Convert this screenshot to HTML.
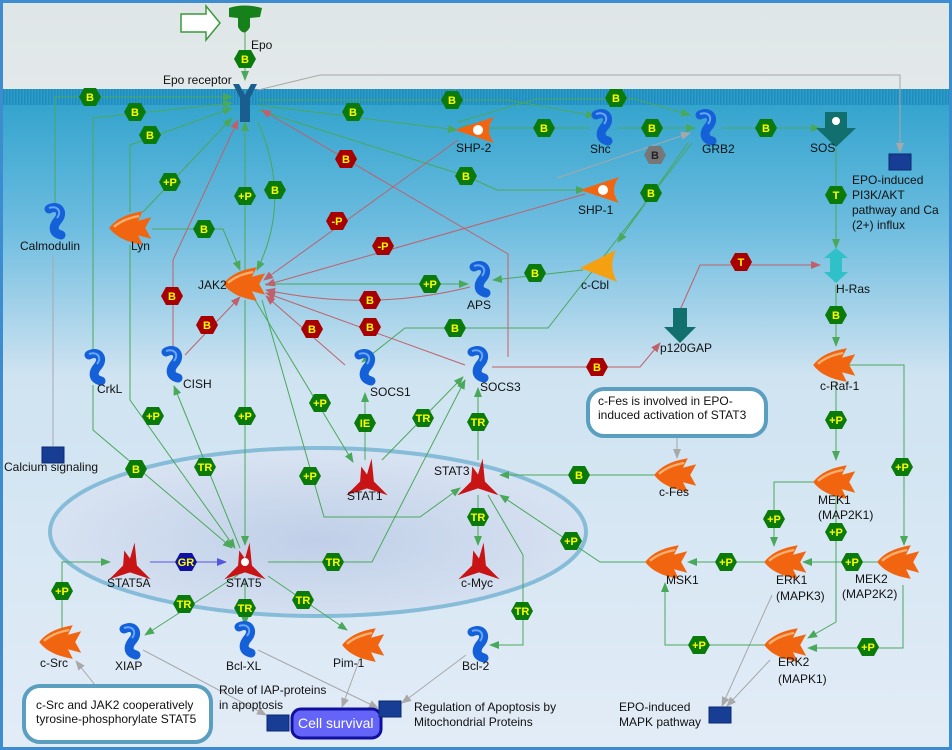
<!DOCTYPE html>
<html><head><meta charset="utf-8"><style>
html,body{margin:0;padding:0;width:952px;height:750px;overflow:hidden;background:#fff}
svg{display:block}
text{font-family:"Liberation Sans",sans-serif;font-size:12px;fill:#111}
.h text,text.h{font-size:11px;font-weight:bold;fill:#ffff00;text-anchor:middle}
.g{stroke:#4aa85a;stroke-width:1;fill:none}
.r{stroke:#c0606a;stroke-width:1;fill:none}
.y{stroke:#a8a8a8;stroke-width:1;fill:none}
</style></head><body>
<svg width="952" height="750" viewBox="0 0 952 750" xmlns="http://www.w3.org/2000/svg">
<defs>
<linearGradient id="bg" x1="0" y1="0" x2="0" y2="1">
<stop offset="0" stop-color="#dfe6e7"/><stop offset="0.12" stop-color="#e3e9ea"/>
<stop offset="0.125" stop-color="#2fa2cc"/><stop offset="0.3" stop-color="#6cbcdf"/>
<stop offset="0.5" stop-color="#cfe3f1"/><stop offset="1" stop-color="#e2ecf7"/>
</linearGradient>
<radialGradient id="nuc" cx="0.5" cy="0.55" r="0.6">
<stop offset="0" stop-color="#c0cfe8"/><stop offset="1" stop-color="#dbe6f3"/>
</radialGradient>
<pattern id="mem" width="3" height="16" patternUnits="userSpaceOnUse">
<rect width="3" height="16" fill="#2b9ccb"/><rect width="1.5" height="16" fill="#1f8cbb"/>
</pattern>
<marker id="ag" markerWidth="10" markerHeight="8" refX="9" refY="4" orient="auto" markerUnits="userSpaceOnUse"><path d="M0,0 L10,4 L0,8Z" fill="#4aa85a"/></marker>
<marker id="ar" markerWidth="10" markerHeight="8" refX="9" refY="4" orient="auto" markerUnits="userSpaceOnUse"><path d="M0,0 L10,4 L0,8Z" fill="#c0606a"/></marker>
<marker id="ay" markerWidth="10" markerHeight="8" refX="9" refY="4" orient="auto" markerUnits="userSpaceOnUse"><path d="M0,0 L10,4 L0,8Z" fill="#a8a8a8"/></marker>
<marker id="ab" markerWidth="10" markerHeight="8" refX="9" refY="4" orient="auto" markerUnits="userSpaceOnUse"><path d="M0,0 L10,4 L0,8Z" fill="#5555dd"/></marker>
<g id="hx"><polygon points="-11,0 -6,-9 6,-9 11,0 6,9 -6,9" fill="#0a7a0a"/></g>
<g id="hr"><polygon points="-11,0 -6,-9 6,-9 11,0 6,9 -6,9" fill="#a80000"/></g>
<g id="prot"><path d="M-6,-13 C4,-18 9,-9 3,-2 C-3,5 -2,11 6,13" stroke="#1460d8" stroke-width="9" stroke-linecap="round" fill="none"/><path d="M-6,-14 C3,-17 7,-10 2,-4" stroke="#6aa8ff" stroke-width="2" fill="none"/></g>
<g id="kin"><g transform="scale(1.2)"><path d="M-19,0 C-12,-9 -2,-12 9,-14 L5,-6 L16,-9 L11,0 L16,9 L5,6 L9,14 C-2,12 -12,9 -19,0Z" fill="#f26510"/><path d="M-15,-1 C-8,-7 0,-9 6,-10" stroke="#ffb070" stroke-width="2" fill="none"/></g></g>
<g id="stat"><g transform="scale(1.15)"><path d="M-18,15 L-6,3 L-5,-10 L0,-3 L4,-17 L6,3 L18,15 L0,9Z" fill="#c81414"/></g></g>
<g id="box"><rect x="-11" y="-8" width="22" height="16" fill="#173d95" stroke="#0b2a70"/></g>
</defs>
<rect width="952" height="750" fill="url(#bg)"/>
<rect x="0" y="89" width="952" height="16" fill="url(#mem)"/>
<rect x="1.5" y="1.5" width="949" height="747" fill="none" stroke="#3d8cd0" stroke-width="3"/>
<ellipse cx="318" cy="532" rx="268" ry="84" fill="url(#nuc)" stroke="#86bcd8" stroke-width="4"/>

<g class="y">
<path marker-end="url(#ay)" d="M258,90 L320,75 L900,75 L900,152"/>
<path marker-end="url(#ay)" d="M677,437 L677,458"/>
<path marker-end="url(#ay)" d="M95,685 L76,661"/>
<path marker-end="url(#ay)" d="M143,650 L266,715"/>
<path marker-end="url(#ay)" d="M258,650 L378,708"/>
<path marker-end="url(#ay)" d="M359,661 L342,707"/>
<path marker-end="url(#ay)" d="M466,655 L402,703"/>
<path marker-end="url(#ay)" d="M772,595 L722,706"/>
<path marker-end="url(#ay)" d="M770,660 L727,706"/>
<path d="M53,255 L53,446"/>
<path marker-end="url(#ay)" d="M557,178 L690,133"/>
</g>

<g class="g">
<path marker-end="url(#ag)" d="M245,30 L245,80"/>
<path marker-end="url(#ag)" d="M55,210 L55,97 L232,97"/>
<path marker-end="url(#ag)" d="M93,355 L93,118 L232,103"/>
<path marker-end="url(#ag)" d="M130,212 L130,145 L232,108"/>
<path marker-end="url(#ag)" d="M143,212 L232,118"/>
<path marker-end="url(#ag)" d="M152,229 L223,229 L240,270"/>
<path marker-end="url(#ag)" d="M245,270 L245,122"/>
<path marker-end="url(#ag)" d="M258,122 Q292,200 257,270"/>
<path marker-end="url(#ag)" d="M258,105 L457,130"/>
<path marker-end="url(#ag)" d="M258,100 L508,100 L595,116"/>
<path marker-end="url(#ag)" d="M258,110 L466,176 L497,190 L585,190"/>
<path marker-end="url(#ag)" d="M590,128 L460,128"/>
<path marker-end="url(#ag)" d="M618,128 L695,128"/>
<path marker-end="url(#ag)" d="M458,122 L536,99 L590,99 L635,99 L690,115"/>
<path marker-end="url(#ag)" d="M722,128 L820,128"/>
<path marker-end="url(#ag)" d="M688,143 L618,242"/>
<path marker-end="url(#ag)" d="M692,143 L548,328 L405,328 L362,362"/>
<path marker-end="url(#ag)" d="M836,148 L836,248"/>
<path marker-end="url(#ag)" d="M836,285 L836,346"/>
<path marker-end="url(#ag)" d="M583,270 L493,280"/>
<path marker-end="url(#ag)" d="M265,284 L468,284"/>
<path marker-end="url(#ag)" d="M849,365 L904,365 L904,545"/>
<path marker-end="url(#ag)" d="M836,382 L836,460"/>
<path marker-end="url(#ag)" d="M816,482 L774,482 L774,546"/>
<path marker-end="url(#ag)" d="M836,490 L836,622 L808,638"/>
<path marker-end="url(#ag)" d="M878,562 L803,562"/>
<path marker-end="url(#ag)" d="M903,585 L903,648 L808,648"/>
<path marker-end="url(#ag)" d="M768,562 L688,562"/>
<path marker-end="url(#ag)" d="M768,645 L665,645 L665,583"/>
<path marker-end="url(#ag)" d="M650,562 L600,562 L500,495"/>
<path marker-end="url(#ag)" d="M655,475 L500,475"/>
<path marker-end="url(#ag)" d="M478,460 L478,388"/>
<path marker-end="url(#ag)" d="M478,495 L478,545"/>
<path marker-end="url(#ag)" d="M488,495 L523,555 L523,645 L490,645"/>
<path marker-end="url(#ag)" d="M268,562 L372,562 L465,380"/>
<path marker-end="url(#ag)" d="M382,460 L463,377"/>
<path marker-end="url(#ag)" d="M365,460 L365,393"/>
<path marker-end="url(#ag)" d="M255,300 L353,462"/>
<path marker-end="url(#ag)" d="M262,300 L324,517 L420,517 L460,488"/>
<path marker-end="url(#ag)" d="M245,300 L245,545"/>
<path marker-end="url(#ag)" d="M130,245 L130,400 L235,548"/>
<path marker-end="url(#ag)" d="M240,548 L174,386"/>
<path marker-end="url(#ag)" d="M93,385 L93,430 L232,548"/>
<path marker-end="url(#ag)" d="M62,628 L62,562 L110,562"/>
<path marker-end="url(#ag)" d="M238,575 L145,635"/>
<path marker-end="url(#ag)" d="M245,578 L245,625"/>
<path marker-end="url(#ag)" d="M268,576 L347,630"/>
</g>
<path d="M150,562 L226,562" stroke="#5555dd" fill="none" marker-end="url(#ab)"/>
<g class="r">
<path marker-end="url(#ar)" d="M173,352 L173,260 L238,120"/>
<path marker-end="url(#ar)" d="M185,355 L240,297"/>
<path marker-end="url(#ar)" d="M458,140 L264,280"/>
<path marker-end="url(#ar)" d="M585,194 L266,285"/>
<path marker-end="url(#ar)" d="M508,357 L508,254 L262,110"/>
<path marker-end="url(#ar)" d="M470,287 Q370,312 266,290"/>
<path marker-end="url(#ar)" d="M465,365 L266,293"/>
<path marker-end="url(#ar)" d="M345,365 L266,296"/>
<path marker-end="url(#ar)" d="M492,367 L640,367 L660,343"/>
<path marker-end="url(#ar)" d="M680,310 L700,265 L820,265"/>
</g>

<g class="h">
<use href="#hx" x="245" y="59"/><text x="245" y="63">B</text>
<use href="#hx" x="90" y="97"/><text x="90" y="101">B</text>
<use href="#hx" x="135" y="112"/><text x="135" y="116">B</text>
<use href="#hx" x="150" y="135"/><text x="150" y="139">B</text>
<use href="#hx" x="170" y="182"/><text x="170" y="186">+P</text>
<use href="#hx" x="204" y="229"/><text x="204" y="233">B</text>
<use href="#hx" x="245" y="196"/><text x="245" y="200">+P</text>
<use href="#hx" x="275" y="190"/><text x="275" y="194">B</text>
<use href="#hx" x="353" y="112"/><text x="353" y="116">B</text>
<use href="#hx" x="452" y="100"/><text x="452" y="104">B</text>
<use href="#hx" x="466" y="176"/><text x="466" y="180">B</text>
<use href="#hx" x="544" y="128"/><text x="544" y="132">B</text>
<use href="#hx" x="652" y="128"/><text x="652" y="132">B</text>
<use href="#hx" x="616" y="98"/><text x="616" y="102">B</text>
<use href="#hx" x="766" y="128"/><text x="766" y="132">B</text>
<polygon points="644,155 649,146 661,146 666,155 661,164 649,164" fill="#777"/><text x="655" y="159" style="fill:#222">B</text>
<use href="#hx" x="651" y="193"/><text x="651" y="197">B</text>
<use href="#hx" x="455" y="328"/><text x="455" y="332">B</text>
<use href="#hx" x="836" y="195"/><text x="836" y="199">T</text>
<use href="#hx" x="836" y="315"/><text x="836" y="319">B</text>
<use href="#hx" x="535" y="273"/><text x="535" y="277">B</text>
<use href="#hx" x="430" y="284"/><text x="430" y="288">+P</text>
<use href="#hx" x="902" y="467"/><text x="902" y="471">+P</text>
<use href="#hx" x="836" y="420"/><text x="836" y="424">+P</text>
<use href="#hx" x="774" y="519"/><text x="774" y="523">+P</text>
<use href="#hx" x="836" y="532"/><text x="836" y="536">+P</text>
<use href="#hx" x="852" y="562"/><text x="852" y="566">+P</text>
<use href="#hx" x="868" y="647"/><text x="868" y="651">+P</text>
<use href="#hx" x="726" y="562"/><text x="726" y="566">+P</text>
<use href="#hx" x="699" y="645"/><text x="699" y="649">+P</text>
<use href="#hx" x="571" y="541"/><text x="571" y="545">+P</text>
<use href="#hx" x="579" y="475"/><text x="579" y="479">B</text>
<use href="#hx" x="478" y="422"/><text x="478" y="426">TR</text>
<use href="#hx" x="478" y="517"/><text x="478" y="521">TR</text>
<use href="#hx" x="522" y="611"/><text x="522" y="615">TR</text>
<use href="#hx" x="333" y="562"/><text x="333" y="566">TR</text>
<use href="#hx" x="423" y="418"/><text x="423" y="422">TR</text>
<use href="#hx" x="365" y="423"/><text x="365" y="427">IE</text>
<use href="#hx" x="320" y="403"/><text x="320" y="407">+P</text>
<use href="#hx" x="310" y="476"/><text x="310" y="480">+P</text>
<use href="#hx" x="245" y="416"/><text x="245" y="420">+P</text>
<use href="#hx" x="153" y="416"/><text x="153" y="420">+P</text>
<use href="#hx" x="205" y="467"/><text x="205" y="471">TR</text>
<use href="#hx" x="136" y="469"/><text x="136" y="473">B</text>
<use href="#hx" x="62" y="591"/><text x="62" y="595">+P</text>
<polygon points="175,562 180,553 192,553 197,562 192,571 180,571" fill="#1010a0"/><text x="186" y="566">GR</text>
<use href="#hx" x="184" y="604"/><text x="184" y="608">TR</text>
<use href="#hx" x="245" y="608"/><text x="245" y="612">TR</text>
<use href="#hx" x="303" y="600"/><text x="303" y="604">TR</text>
<use href="#hr" x="172" y="296"/><text x="172" y="300">B</text>
<use href="#hr" x="207" y="325"/><text x="207" y="329">B</text>
<use href="#hr" x="337" y="221"/><text x="337" y="225">-P</text>
<use href="#hr" x="383" y="246"/><text x="383" y="250">-P</text>
<use href="#hr" x="346" y="159"/><text x="346" y="163">B</text>
<use href="#hr" x="370" y="300"/><text x="370" y="304">B</text>
<use href="#hr" x="370" y="327"/><text x="370" y="331">B</text>
<use href="#hr" x="312" y="329"/><text x="312" y="333">B</text>
<use href="#hr" x="597" y="367"/><text x="597" y="371">B</text>
<use href="#hr" x="741" y="262"/><text x="741" y="266">T</text>
</g>

<path d="M181,14 L206,14 L206,6 L220,23 L206,40 L206,32 L181,32Z" fill="#fff" stroke="#3a9a3a" stroke-width="1.5"/>
<path d="M229,8 Q244,3 262,8 L260,17 L250,18 L250,27 Q244,38 238,27 L238,18 L229,17Z" fill="#16801a"/>
<text x="251" y="49">Epo</text>
<path d="M233,84 L240,98 L240,122 L250,122 L250,98 L257,84 L251,84 L245,95 L239,84Z" fill="#1a5e90"/>
<text x="163" y="84">Epo receptor</text>
<use href="#prot" x="55" y="222"/><text x="20" y="250">Calmodulin</text>
<use href="#kin" x="132" y="228"/><text x="131" y="250">Lyn</text>
<use href="#kin" x="246" y="284"/><text x="198" y="289">JAK2</text>
<path d="M494,117 L455,130 L494,143 Q484,130 494,117Z" fill="#f26510"/><circle cx="478" cy="130" r="5" fill="#fff"/>
<text x="456" y="152">SHP-2</text>
<use href="#prot" x="602" y="128"/><text x="590" y="153">Shc</text>
<use href="#prot" x="706" y="128"/><text x="702" y="153">GRB2</text>
<path d="M825,112 L847,112 L847,128 L856,128 L836,147 L816,128 L825,128Z" fill="#11706e"/><circle cx="836" cy="121" r="4" fill="#fff"/>
<text x="810" y="152">SOS</text>
<use href="#box" x="900" y="162"/>
<text x="852" y="184">EPO-induced</text><text x="852" y="199">PI3K/AKT</text><text x="852" y="214">pathway and Ca</text><text x="852" y="229">(2+) influx</text>
<path d="M619,177 L580,190 L619,203 Q609,190 619,177Z" fill="#f26510"/><circle cx="603" cy="190" r="5" fill="#fff"/>
<text x="578" y="214">SHP-1</text>
<path d="M616,250 L580,268 Q600,275 617,282 Q608,266 616,250Z" fill="#f5a010"/><text x="581" y="289">c-Cbl</text>
<use href="#prot" x="480" y="280"/><text x="467" y="309">APS</text>
<path d="M836,248 L848,258 L842,258 L842,272 L848,272 L836,283 L824,272 L830,272 L830,258 L824,258Z" fill="#30c0c8"/>
<text x="836" y="293">H-Ras</text>
<path d="M673,308 L687,308 L687,327 L696,327 L680,343 L664,327 L673,327Z" fill="#11706e"/>
<text x="660" y="352">p120GAP</text>
<use href="#prot" x="172" y="365"/><text x="183" y="388">CISH</text>
<use href="#prot" x="95" y="368"/><text x="97" y="393">CrkL</text>
<use href="#prot" x="365" y="368"/><text x="370" y="396">SOCS1</text>
<use href="#prot" x="478" y="365"/><text x="480" y="391">SOCS3</text>
<use href="#kin" x="836" y="365"/><text x="820" y="390">c-Raf-1</text>
<use href="#box" x="53" y="455"/><text x="4" y="471">Calcium signaling</text>
<use href="#stat" x="367" y="478"/><text x="347" y="500">STAT1</text>
<use href="#stat" x="478" y="478"/><text x="434" y="475">STAT3</text>
<use href="#kin" x="677" y="475"/><text x="659" y="496">c-Fes</text>
<use href="#kin" x="836" y="482"/><text x="818" y="504">MEK1</text><text x="818" y="519">(MAP2K1)</text>
<use href="#stat" x="130" y="562"/><text x="107" y="587">STAT5A</text>
<use href="#stat" x="245" y="562"/><circle cx="245" cy="562" r="4" fill="#fff"/><text x="226" y="587">STAT5</text>
<use href="#stat" x="479" y="562"/><text x="461" y="587">c-Myc</text>
<use href="#kin" x="668" y="562"/><text x="666" y="584">MSK1</text>
<use href="#kin" x="787" y="562"/><text x="776" y="584">ERK1</text><text x="776" y="600">(MAPK3)</text>
<use href="#kin" x="900" y="562"/><text x="855" y="583">MEK2</text><text x="842" y="598">(MAP2K2)</text>
<use href="#kin" x="62" y="642"/><text x="40" y="667">c-Src</text>
<use href="#prot" x="130" y="642"/><text x="115" y="670">XIAP</text>
<use href="#prot" x="245" y="640"/><text x="226" y="670">Bcl-XL</text>
<use href="#kin" x="365" y="645"/><text x="333" y="667">Pim-1</text>
<use href="#prot" x="478" y="645"/><text x="462" y="670">Bcl-2</text>
<use href="#kin" x="787" y="645"/><text x="778" y="666">ERK2</text><text x="778" y="683">(MAPK1)</text>
<use href="#box" x="720" y="715"/><text x="619" y="711">EPO-induced</text><text x="619" y="726">MAPK pathway</text>
<use href="#box" x="278" y="723"/><text x="219" y="694">Role of IAP-proteins</text><text x="219" y="709">in apoptosis</text>
<rect x="292" y="709" width="89" height="29" rx="9" fill="#6464f8" stroke="#1010a0" stroke-width="3"/>
<text x="298" y="728" style="font-size:14px;fill:#fff">Cell survival</text>
<use href="#box" x="390" y="709"/><text x="414" y="711">Regulation of Apoptosis by</text><text x="414" y="726">Mitochondrial Proteins</text>
<rect x="588" y="389" width="178" height="47" rx="16" fill="#fff" stroke="#5a9ec0" stroke-width="4"/>
<text x="598" y="405">c-Fes is involved in EPO-</text><text x="598" y="419">induced activation of STAT3</text>
<rect x="24" y="686" width="187" height="56" rx="16" fill="#fff" stroke="#5a9ec0" stroke-width="4"/>
<text x="36" y="709">c-Src and JAK2 cooperatively</text><text x="36" y="723">tyrosine-phosphorylate STAT5</text>
</svg>
</body></html>
